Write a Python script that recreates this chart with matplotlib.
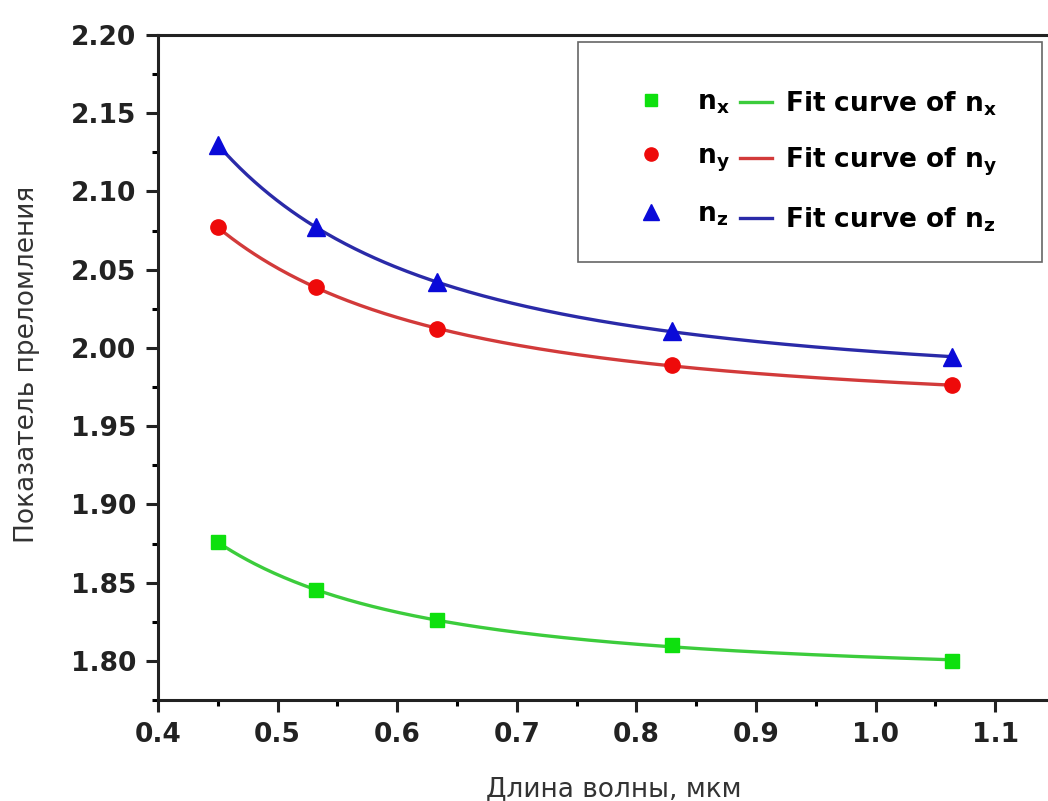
import numpy as np
import matplotlib
matplotlib.use("Agg")
import matplotlib.pyplot as plt
from matplotlib.lines import Line2D
from matplotlib.patches import Rectangle
from matplotlib.ticker import MultipleLocator, FormatStrFormatter

# wavelengths, um
wavelength = [0.450, 0.532, 0.633, 0.830, 1.064]
# refractive indices
n_x = [1.876, 1.845, 1.826, 1.810, 1.800]
n_y = [2.077, 2.039, 2.012, 1.989, 1.976]
n_z = [2.130, 2.077, 2.042, 2.011, 1.994]

series = [
    ("x", n_x, "s", "#0ee00e", "#3ccc3c", 10.5),
    ("y", n_y, "o", "#ee0a0a", "#d23a3a", 11),
    ("z", n_z, "^", "#0a0ad8", "#2a2aa8", 12.5),
]

plt.rcParams["font.family"] = ["DejaVu Sans"]
plt.rcParams["mathtext.fontset"] = "dejavusans"

fig = plt.figure(figsize=(10.48, 8.01), dpi=100)
ax = fig.add_axes([158 / 1048, 1 - 700 / 801, 897 / 1048, 665 / 801])


def cauchy_fit(lam, n):
    # n = A + B/lam^2 + C/lam^4
    u = 1.0 / np.asarray(lam) ** 2
    return np.polyfit(u, n, 2)


lam_fine = np.linspace(wavelength[0], wavelength[-1], 300)
marker_handles = []
line_handles = []
for name, vals, mk, mcol, lcol, ms in series:
    coef = cauchy_fit(wavelength, vals)
    ax.plot(lam_fine, np.polyval(coef, 1.0 / lam_fine ** 2), color=lcol, lw=2.4, zorder=2)
    ax.plot(wavelength, vals, ls="none", marker=mk, ms=ms, color=mcol, mec=mcol, zorder=3)
    marker_handles.append(Line2D([], [], ls="none", marker=mk, ms=ms - 1.5, color=mcol))
    line_handles.append(Line2D([], [], color=lcol, lw=2.4))

ax.set_xlim(0.4, 1.15)
ax.set_ylim(1.775, 2.20)
ax.xaxis.set_major_locator(MultipleLocator(0.1))
ax.xaxis.set_minor_locator(MultipleLocator(0.05))
ax.yaxis.set_major_locator(MultipleLocator(0.05))
ax.yaxis.set_minor_locator(MultipleLocator(0.025))
ax.xaxis.set_major_formatter(FormatStrFormatter("%.1f"))
ax.yaxis.set_major_formatter(FormatStrFormatter("%.2f"))

for sp in ax.spines.values():
    sp.set_linewidth(2.2)
    sp.set_color("#222222")
ax.tick_params(which="major", direction="out", length=8.5, width=2.2, pad=7,
               labelsize=19, colors="#222222")
ax.tick_params(which="minor", direction="out", length=4.5, width=2.2)
for lbl in ax.get_xticklabels() + ax.get_yticklabels():
    lbl.set_fontweight("bold")

ax.set_xlabel("Длина волны, мкм", fontsize=19, color="#333333")
ax.set_ylabel("Показатель преломления", fontsize=19, color="#333333")
ax.xaxis.set_label_coords(0.508, -0.114)
ax.yaxis.set_label_coords(-0.131, 0.505)

# legend frame
fig.patches.append(Rectangle((578 / 1048, 1 - 262 / 801), 464 / 1048, 220 / 801,
                             transform=fig.transFigure, fill=False,
                             edgecolor="#666666", lw=1.2))

leg_kw = dict(frameon=False, prop={"weight": "bold", "size": 19},
              labelspacing=1.05, borderpad=0, borderaxespad=0, loc="upper left",
              bbox_transform=fig.transFigure)
leg1 = fig.legend(marker_handles, [r"$\mathbf{n_%s}$" % s[0] for s in series],
                  handlelength=1.0, handletextpad=1.25,
                  bbox_to_anchor=(638 / 1048, 1 - 89 / 801), **leg_kw)
leg2 = fig.legend(line_handles, [r"Fit curve of $\mathbf{n_%s}$" % s[0] for s in series],
                  handlelength=1.21, handletextpad=0.49,
                  bbox_to_anchor=(740 / 1048, 1 - 89 / 801), **leg_kw)

fig.savefig("out.png", dpi=100)
